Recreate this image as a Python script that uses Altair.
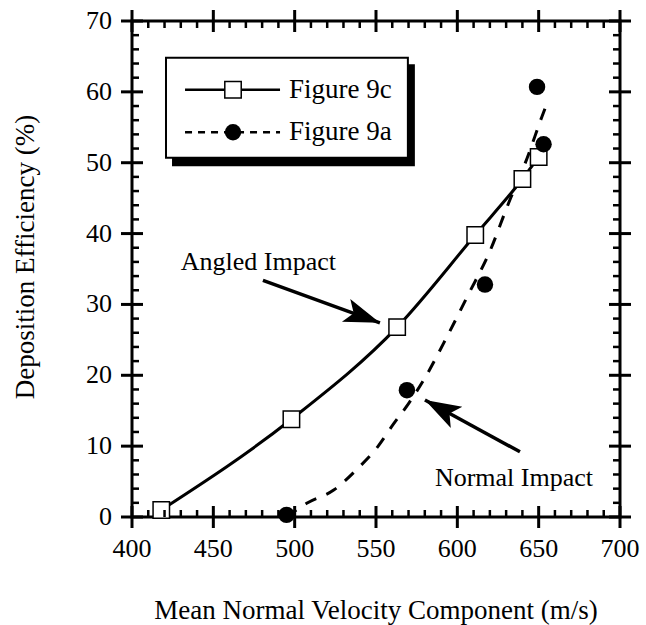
import altair as alt
import pandas as pd

FONT = "Liberation Serif"

# ---- data ----
v_9c = [418, 498, 563, 611, 640, 650]
de_9c = [1.0, 13.8, 26.8, 39.8, 47.7, 50.8]

v_9a = [495, 569, 617, 649, 653]
de_9a = [0.3, 17.9, 32.8, 60.7, 52.6]

# dashed trend curve for Figure 9a
fit_v = [495, 508, 524, 539, 551, 561, 570, 580, 594, 607, 620, 631, 643, 652, 655]
fit_de = [0.0, 2.0, 3.8, 6.9, 9.9, 13.2, 16.0, 19.6, 25.6, 31.5, 37.5, 44.0, 50.7, 56.5, 58.3]

legend_labels = ["Figure 9c", "Figure 9a"]
annot_labels = ["Angled Impact", "Normal Impact"]
x_title = "Mean Normal Velocity Component (m/s)"
y_title = "Deposition Efficiency (%)"

x_major = [400, 450, 500, 550, 600, 650, 700]
x_minor = [v for v in range(410, 700, 10) if v % 50]
y_major = [0, 10, 20, 30, 40, 50, 60, 70]
y_minor = [v for v in range(2, 70, 2) if v % 10]

X_MIN, X_MAX = 400, 700
Y_MIN, Y_MAX = 0, 70

df9c = pd.DataFrame({"v": v_9c, "de": de_9c})
df9a = pd.DataFrame({"v": v_9a, "de": de_9a})
dffit = pd.DataFrame({"v": fit_v, "de": fit_de})

XS = alt.Scale(domain=[X_MIN, X_MAX], nice=False, zero=False)
YS = alt.Scale(domain=[Y_MIN, Y_MAX], nice=False, zero=False)


def X(field):
    return alt.X(field, type="quantitative", scale=XS, axis=None)


def Y(field):
    return alt.Y(field, type="quantitative", scale=YS, axis=None)


line9c = alt.Chart(df9c).mark_line(
    color="black", strokeWidth=3, interpolate="monotone"
).encode(x=X("v"), y=Y("de"))

curve9a = alt.Chart(dffit).mark_line(
    color="black", strokeWidth=3, strokeDash=[12, 11], interpolate="monotone"
).encode(x=X("v"), y=Y("de"))

pts9c = alt.Chart(df9c).mark_point(
    shape="square", filled=True, fill="white", stroke="black",
    strokeWidth=1.5, size=270, opacity=1
).encode(x=X("v"), y=Y("de"))

pts9a = alt.Chart(df9a).mark_circle(
    size=270, color="black", opacity=1
).encode(x=X("v"), y=Y("de"))

# ---- tick marks on all four sides, drawn as short rules ----
xt_major = pd.DataFrame({"v": x_major, "lo": Y_MIN, "hi": Y_MAX})
xt_minor = pd.DataFrame({"v": x_minor, "lo": Y_MIN, "hi": Y_MAX})
yt_major = pd.DataFrame({"de": y_major, "lo": X_MIN, "hi": X_MAX})
yt_minor = pd.DataFrame({"de": y_minor, "lo": X_MIN, "hi": X_MAX})

tick_layers = []
# vertical ticks on bottom (lo) and top (hi) edges
for edge, (m_a, m_b) in (("lo", (-7, 0)), ("hi", (0, 7))):
    tick_layers.append(alt.Chart(xt_major).mark_rule(
        color="black", strokeWidth=3, yOffset=-11, y2Offset=11
    ).encode(x=X("v"), y=Y(edge), y2=alt.Y2(edge)))
    tick_layers.append(alt.Chart(xt_minor).mark_rule(
        color="black", strokeWidth=2.5, yOffset=m_a, y2Offset=m_b
    ).encode(x=X("v"), y=Y(edge), y2=alt.Y2(edge)))
# horizontal ticks on left (lo) and right (hi) edges
for edge, (m_a, m_b) in (("lo", (0, 7)), ("hi", (-7, 0))):
    tick_layers.append(alt.Chart(yt_major).mark_rule(
        color="black", strokeWidth=3, xOffset=-11, x2Offset=11
    ).encode(x=X(edge), x2=alt.X2(edge), y=Y("de")))
    tick_layers.append(alt.Chart(yt_minor).mark_rule(
        color="black", strokeWidth=2.5, xOffset=m_a, x2Offset=m_b
    ).encode(x=X(edge), x2=alt.X2(edge), y=Y("de")))

# ---- tick labels and axis titles as text marks ----
x_lab = alt.Chart(xt_major).mark_text(
    font=FONT, fontSize=26, color="black", align="center", baseline="top", yOffset=19
).encode(x=X("v"), y=Y("lo"), text=alt.Text("v:Q", format="d"))
y_lab = alt.Chart(yt_major).mark_text(
    font=FONT, fontSize=26, color="black", align="right", baseline="middle", xOffset=-20
).encode(x=X("lo"), y=Y("de"), text=alt.Text("de:Q", format="d"))

title_df = pd.DataFrame({
    "label": [x_title, y_title],
    "x": [(X_MIN + X_MAX) / 2, X_MIN],
    "y": [Y_MIN, 36.7],
})
x_ttl = alt.Chart(title_df.iloc[[0]]).mark_text(
    font=FONT, fontSize=27, color="black", align="center", baseline="alphabetic",
    yOffset=102
).encode(x=X("x"), y=Y("y"), text="label:N")
y_ttl = alt.Chart(title_df.iloc[[1]]).mark_text(
    font=FONT, fontSize=27, color="black", align="center", baseline="alphabetic",
    angle=270, xOffset=-98
).encode(x=X("x"), y=Y("y"), text="label:N")

# ---- legend (drawn inside the plot, in data coordinates) ----
shadow_df = pd.DataFrame({"x1": [424.6], "x2": [573.9], "y1": [49.5], "y2": [63.9]})
box_df = pd.DataFrame({"x1": [420.9], "x2": [569.6], "y1": [50.7], "y2": [64.8]})
rows_y = [60.3, 54.3]
leg_df = pd.DataFrame({
    "label": legend_labels,
    "y": rows_y,
    "x1": [432.6, 432.6],
    "x2": [491.0, 491.0],
    "xm": [462.1, 462.1],
    "xt": [496.5, 496.5],
})

shadow = alt.Chart(shadow_df).mark_rect(color="black").encode(
    x=X("x1"), x2="x2", y=Y("y1"), y2="y2")
box = alt.Chart(box_df).mark_rect(fill="white", stroke="black", strokeWidth=2).encode(
    x=X("x1"), x2="x2", y=Y("y1"), y2="y2")
leg_line1 = alt.Chart(leg_df.iloc[[0]]).mark_rule(color="black", strokeWidth=2.5).encode(
    x=X("x1"), x2="x2", y=Y("y"))
leg_line2 = alt.Chart(leg_df.iloc[[1]]).mark_rule(
    color="black", strokeWidth=2.5, strokeDash=[7, 6]).encode(
    x=X("x1"), x2="x2", y=Y("y"))
leg_sq = alt.Chart(leg_df.iloc[[0]]).mark_point(
    shape="square", filled=True, fill="white", stroke="black",
    strokeWidth=1.5, size=270, opacity=1).encode(x=X("xm"), y=Y("y"))
leg_ci = alt.Chart(leg_df.iloc[[1]]).mark_circle(
    size=270, color="black", opacity=1).encode(x=X("xm"), y=Y("y"))
leg_txt = alt.Chart(leg_df).mark_text(
    font=FONT, fontSize=27, color="black", align="left", baseline="middle"
).encode(x=X("xt"), y=Y("y"), text="label:N")

# ---- annotations with arrows ----
ann_df = pd.DataFrame({
    "label": annot_labels,
    "tx": [477.7, 634.8],
    "ty": [34.9, 4.4],
    "x_tail": [480.5, 638.5],
    "y_tail": [33.4, 9.2],
    "x_tip": [552.4, 580.1],
    "y_tip": [27.4, 16.5],
    "ang": [20.2, 208.6],
})

ann_txt = alt.Chart(ann_df).mark_text(
    font=FONT, fontSize=26, color="black", align="center", baseline="alphabetic"
).encode(x=X("tx"), y=Y("ty"), text="label:N")

shaft = alt.Chart(ann_df).mark_rule(color="black", strokeWidth=3.5).encode(
    x=X("x_tail"), y=Y("y_tail"), x2="x_tip", y2="y_tip")

HEAD = "M 0 0 L -2 -0.67 L -1.55 0 L -2 0.67 Z"
head = alt.Chart(ann_df).mark_point(
    shape=HEAD, filled=True, fill="black", strokeWidth=0, size=1296, opacity=1
).encode(x=X("x_tip"), y=Y("y_tip"), angle=alt.Angle("ang:Q", scale=None))

chart = alt.layer(
    shadow, box, leg_line1, leg_line2, leg_sq, leg_ci, leg_txt,
    ann_txt, shaft, head,
    line9c, curve9a, pts9c, pts9a,
    x_lab, y_lab, x_ttl, y_ttl, *tick_layers,
).properties(
    width=488, height=496,
    padding={"left": 132, "top": 21, "right": 26, "bottom": 108},
    autosize=alt.AutoSizeParams(type="none"),
    background="white",
).configure_view(
    stroke="black", strokeWidth=3
)

chart.save("out.html", embed_options={"renderer": "svg", "actions": False})
